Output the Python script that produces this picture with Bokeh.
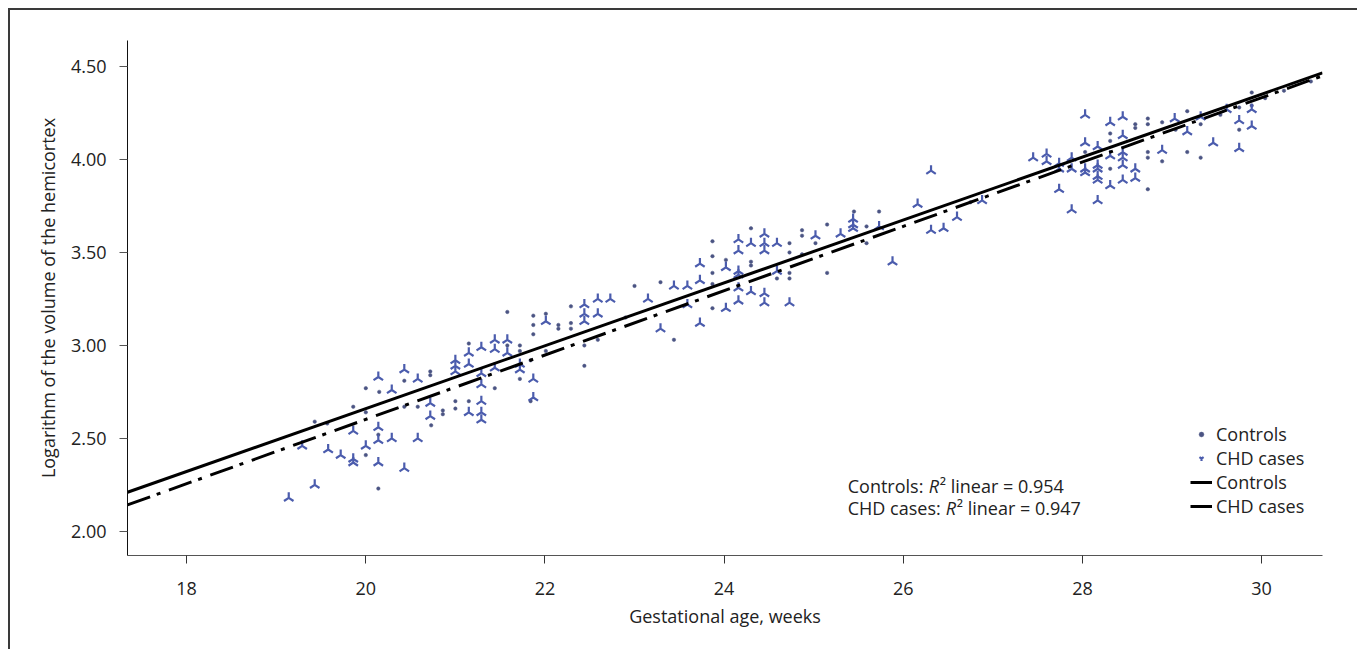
import numpy as np
from bokeh.plotting import figure
from bokeh.models import (Legend, LegendItem, Label, FixedTicker, Range1d,
                          NumeralTickFormatter)
from bokeh.embed import file_html
from bokeh.resources import INLINE

FONT = "Open Sans"
TEXT = "#222222"

# ---- data ----
controls_x = [19.43, 19.57, 19.86, 20.0, 20.0, 20.14, 20.14, 20.43, 20.58, 20.73,
              20.86, 20.86, 20.0, 20.15, 20.43, 20.72, 20.72, 21.0, 21.15, 21.15,
              21.44, 21.72, 21.72, 21.84, 21.84, 21.0,
              21.58, 21.87, 21.87, 21.87, 22.01, 22.15, 22.15, 22.29, 22.29, 22.29,
              22.44, 22.44, 22.59, 23.0, 23.29, 23.44, 21.58, 21.72, 22.01, 22.9,
              23.87, 23.87, 23.87, 23.87, 23.87, 24.02, 24.30, 24.30, 24.30, 24.59,
              24.73, 24.73, 24.73, 24.73, 24.87, 24.87, 24.87, 25.02, 25.15, 25.15,
              25.59, 25.59, 25.45, 25.73, 26.75,
              28.03, 28.31, 28.31, 28.31, 28.59, 28.59, 28.73, 28.73, 28.73, 28.73,
              28.73, 28.89, 28.89, 29.17, 29.17, 29.32, 29.32, 29.54, 29.75, 29.75,
              29.89, 29.89, 30.04, 30.25, 30.55, 29.04]
controls_y = [2.59, 2.58, 2.67, 2.64, 2.41, 2.52, 2.23, 2.67, 2.67, 2.57,
              2.65, 2.63, 2.77, 2.75, 2.81, 2.86, 2.84, 2.66, 2.70, 3.01,
              2.77, 3.00, 2.82, 2.92, 2.70, 2.70,
              3.18, 3.16, 3.11, 3.06, 3.17, 3.11, 3.09, 3.21, 3.12, 3.09,
              3.00, 2.89, 3.03, 3.32, 3.34, 3.03, 3.00, 2.97, 2.97, 3.15,
              3.56, 3.48, 3.39, 3.33, 3.20, 3.46, 3.63, 3.45, 3.43, 3.36,
              3.55, 3.50, 3.39, 3.36, 3.62, 3.59, 3.49, 3.55, 3.65, 3.39,
              3.64, 3.55, 3.72, 3.72, 3.77,
              4.04, 4.14, 4.10, 3.95, 4.19, 4.17, 4.22, 4.19, 4.04, 4.01,
              3.84, 4.20, 3.99, 4.26, 4.04, 4.19, 4.01, 4.24, 4.28, 4.16,
              4.36, 4.29, 4.33, 4.37, 4.42, 4.16]

chd_x = [19.14, 19.29, 19.43, 19.58, 19.72, 19.86, 19.86, 19.86, 20.0, 20.14,
         20.14, 20.14, 20.29, 20.43, 20.58, 20.14, 20.29, 20.43, 20.58, 20.72, 20.72,
         21.0, 21.0, 21.0, 21.15, 21.15, 21.15, 21.29, 21.29, 21.29, 21.29, 21.29,
         21.29, 21.44, 21.44, 21.44, 21.58, 21.58, 21.72, 21.72, 21.87, 21.87, 22.01,
         22.44, 22.44, 22.44, 22.59, 22.59, 22.73, 23.15, 23.29, 23.44, 23.59, 23.59,
         23.73, 23.73, 23.73,
         24.02, 24.02, 24.16, 24.16, 24.16, 24.16, 24.16, 24.16, 24.30, 24.30,
         24.45, 24.45, 24.45, 24.45, 24.45, 24.59, 24.59, 24.73, 25.02, 25.30,
         25.44, 25.44, 25.44, 25.73, 25.88, 26.16, 26.31, 26.31, 26.45, 26.60, 26.88,
         27.45, 27.60, 27.60, 27.74, 27.74, 27.74, 27.88, 27.88, 27.88, 28.03, 28.03,
         28.03, 28.03, 28.17, 28.17, 28.17, 28.17, 28.17, 28.17, 28.31, 28.31, 28.31,
         28.45, 28.45, 28.45, 28.45, 28.45, 28.45, 28.59, 28.59, 28.89, 29.03, 29.17,
         29.32, 29.46, 29.61, 29.75, 29.75, 29.89, 29.89]
chd_y = [2.18, 2.46, 2.25, 2.44, 2.41, 2.54, 2.39, 2.37, 2.46, 2.56,
         2.49, 2.37, 2.50, 2.34, 2.50, 2.83, 2.76, 2.87, 2.82, 2.69, 2.62,
         2.92, 2.89, 2.86, 2.96, 2.90, 2.64, 2.99, 2.85, 2.79, 2.70, 2.64,
         2.60, 3.03, 2.98, 2.88, 3.03, 2.96, 2.90, 2.87, 2.82, 2.72, 3.13,
         3.22, 3.17, 3.13, 3.25, 3.17, 3.25, 3.25, 3.09, 3.32, 3.32, 3.22,
         3.12, 3.44, 3.35,
         3.42, 3.20, 3.57, 3.51, 3.40, 3.38, 3.31, 3.24, 3.55, 3.29,
         3.60, 3.55, 3.51, 3.28, 3.23, 3.55, 3.40, 3.23, 3.59, 3.60,
         3.68, 3.65, 3.63, 3.64, 3.45, 3.76, 3.94, 3.62, 3.63, 3.69, 3.78,
         4.01, 4.03, 3.99, 3.98, 3.95, 3.84, 4.01, 3.95, 3.73, 4.24, 4.09,
         3.95, 3.93, 4.07, 3.97, 3.95, 3.91, 3.89, 3.78, 4.20, 4.02, 3.86,
         4.23, 4.13, 4.04, 4.01, 3.97, 3.89, 3.95, 3.90, 4.05, 4.22, 4.15,
         4.23, 4.09, 4.27, 4.21, 4.06, 4.27, 4.18]

fit_x = [17.34, 30.68]
controls_fit_y = [2.21, 4.466]
chd_fit_y = [2.142, 4.45]

x_ticks = [18, 20, 22, 24, 26, 28, 30]
y_ticks = [2.0, 2.5, 3.0, 3.5, 4.0, 4.5]

r2_groups = ["Controls", "CHD cases"]
r2_values = ["0.954", "0.947"]
r2_label_y = [2.246, 2.127]

# ---- figure ----
p = figure(width=1349, height=641,
           x_range=Range1d(17.34, 30.68), y_range=Range1d(1.87, 4.64),
           output_backend="svg", toolbar_location=None,
           min_border_left=117, min_border_right=37,
           min_border_top=30, min_border_bottom=96)
p.styles = {"border-left": "2px solid #3a3a3a", "border-top": "2px solid #3a3a3a",
            "margin-left": "8px", "margin-top": "8px"}
p.outline_line_color = None
p.xgrid.grid_line_color = None
p.ygrid.grid_line_color = None
p.background_fill_color = "white"
p.border_fill_color = "white"

r_ctrl = p.scatter(controls_x, controls_y, marker="circle", size=3.5,
                   fill_color="#4b5483", line_color="#4b5483", line_width=0.5)
r_chd = p.scatter(chd_x, chd_y, marker="y", angle=np.pi, size=11,
                  line_color="#4b5cad", line_width=2.2)
r_fit_c = p.line(fit_x, controls_fit_y, line_color="black", line_width=3)
r_fit_chd = p.line(fit_x, chd_fit_y, line_color="black", line_width=3,
                   line_dash="24 7 4 9")

# axes
for ax in (p.xaxis[0], p.yaxis[0]):
    ax.major_tick_out = 8
    ax.major_tick_in = 0
    ax.minor_tick_out = 0
    ax.minor_tick_in = 0
    ax.major_label_text_font = FONT
    ax.major_label_text_font_size = "18px"
    ax.major_label_text_color = TEXT
    ax.axis_label_text_font = FONT
    ax.axis_label_text_font_size = "18px"
    ax.axis_label_text_font_style = "normal"
    ax.axis_label_text_color = TEXT

p.xaxis.ticker = FixedTicker(ticks=x_ticks)
p.yaxis.ticker = FixedTicker(ticks=y_ticks)
p.yaxis.formatter = NumeralTickFormatter(format="0.00")
p.xaxis.axis_label = "Gestational age, weeks"
p.yaxis.axis_label = "Logarithm of the volume of the hemicortex"
p.xaxis.axis_line_color = "#555555"
p.xaxis.major_tick_line_color = "#333333"
p.yaxis.axis_line_color = "#111111"
p.yaxis.major_tick_line_color = "#555555"
p.xaxis.major_label_standoff = 18
p.xaxis.axis_label_standoff = 6
p.yaxis.major_label_standoff = 13
p.yaxis.axis_label_standoff = 8

# legend
legend = Legend(items=[
    LegendItem(label="Controls", renderers=[r_ctrl]),
    LegendItem(label="CHD cases", renderers=[r_chd]),
    LegendItem(label="Controls", renderers=[r_fit_c]),
    LegendItem(label="CHD cases", renderers=[r_fit_chd]),
], location=(1063, 37))
legend.label_text_font = FONT
legend.label_text_font_size = "18px"
legend.label_text_color = TEXT
legend.label_height = 20
legend.glyph_height = 12
legend.glyph_width = 22
legend.label_standoff = 4
legend.spacing = -2
legend.padding = 0
legend.margin = 0
legend.border_line_color = None
legend.background_fill_alpha = 0
p.add_layout(legend)

# R^2 annotation
prefix_w = [81, 98]
for grp, r2, ly, w in zip(r2_groups, r2_values, r2_label_y, prefix_w):
    common = dict(x=25.38, y=ly, text_font=FONT, text_font_size="18px",
                  text_color=TEXT, text_baseline="middle", text_align="left")
    p.add_layout(Label(text=grp + ": ", x_offset=0, **common))
    p.add_layout(Label(text="R", x_offset=w, text_font_style="italic", **common))
    p.add_layout(Label(text="\u00b2 linear = " + r2, x_offset=w + 11, **common))

open("out.html", "w").write(file_html(p, INLINE))
